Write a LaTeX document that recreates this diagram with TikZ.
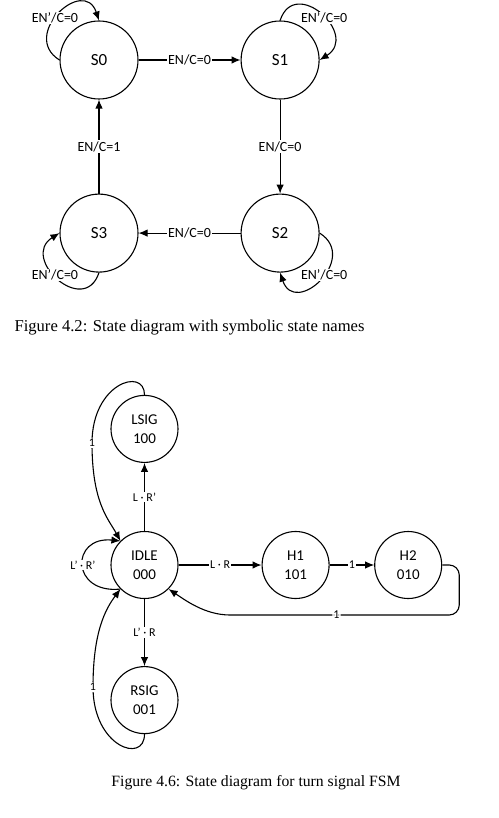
\documentclass[tikz,border=0pt]{standalone}
\usepackage{fontspec}
\setmainfont{Carlito}
\newfontfamily\capfont{Liberation Serif}
\usetikzlibrary{positioning,arrows.meta}

\begin{document}
\begin{tikzpicture}[x=1pt,y=1pt,>={Latex[length=9pt,width=7.5pt]},line width=1.1pt,
  st/.style={draw,circle,minimum size=78pt,inner sep=0pt,font=\fontsize{17}{20}\selectfont},
  fsm/.style={draw,circle,minimum size=67pt,inner sep=0pt,align=center,font=\fontsize{15}{19}\selectfont},
  lb/.style={fill=white,inner sep=1pt,font=\fontsize{14}{16}\selectfont},
  sl/.style={fill=white,inner sep=1pt,font=\fontsize{12}{14}\selectfont},
  figcap/.style={font=\capfont\fontsize{16.6}{20}\selectfont}]
  \useasboundingbox (0,0) rectangle (498,-818);
  \node[st] (s0) at (99,-60) {S0};
  \node[st,right=102pt of s0] (s1) {S1};
  \node[st,below=94pt of s1] (s2) {S2};
  \node[st,below=94pt of s0] (s3) {S3};
  \draw[->] (s0) -- node[lb]{EN/C=0} (s1);
  \draw[->] (s1) -- node[lb]{EN/C=0} (s2);
  \draw[->] (s2) -- node[lb]{EN/C=0} (s3);
  \draw[->] (s3) -- node[lb]{EN/C=1} (s0);
  \draw[->] (s0.west) .. controls +(-40,25) and +(-15,45) .. node[lb,pos=.45]{EN’/C=0} (s0.north);
  \draw[->] (s1.north) .. controls +(15,45) and +(40,25) .. node[lb,pos=.55]{EN’/C=0} (s1.east);
  \draw[->] (s2.east) .. controls +(40,-25) and +(15,-45) .. node[lb,pos=.45]{EN’/C=0} (s2.south);
  \draw[->] (s3.south) .. controls +(-15,-45) and +(-40,-25) .. node[lb,pos=.55]{EN’/C=0} (s3.west);
  \node[figcap] (c1) at (189.5,-328) {Figure 4.2: State diagram with symbolic state names};

  \node[fsm] (idle) at (144.5,-565) {IDLE\\000};
  \node[fsm,above=68pt of idle] (lsig) {LSIG\\100};
  \node[fsm,below=67pt of idle] (rsig) {RSIG\\001};
  \node[fsm,right=83pt of idle] (h1) {H1\\101};
  \node[fsm,right=44.5pt of h1] (h2) {H2\\010};
  \coordinate (l1) at (92,-443);
  \coordinate (r1) at (93,-687);
  \draw[->] (idle) -- node[sl]{L · R’} (lsig);
  \draw[->] (idle) -- node[sl]{L’ · R} (rsig);
  \draw[->] (idle) -- node[sl]{L · R} (h1);
  \draw[->] (h1) -- node[sl]{1} (h2);
  \draw[->] (lsig.north) .. controls +(0,28) and +(0,60) .. (l1) node[sl]{1} .. controls +(0,-60) and +(-12,22) .. (idle.135);
  \draw[->] (rsig.south) .. controls +(0,-30) and +(0,-60) .. (r1) node[sl]{1} .. controls +(0,55) and +(-15,-20) .. (idle.225);
  \draw[->] (idle.225) .. controls +(-50,-5) and +(-50,5) .. node[sl]{L’ · R’} (idle.135);
  \draw[->,rounded corners=10pt] (h2.east) -- ++(17,0) |- node[sl,pos=.78]{1} (240,-615) .. controls (205,-615) and (185,-600) .. (idle.315);
  \node[figcap,font=\capfont\fontsize{15.7}{19}\selectfont] (c2) at (256,-783) {Figure 4.6: State diagram for turn signal FSM};
\end{tikzpicture}
\end{document}
